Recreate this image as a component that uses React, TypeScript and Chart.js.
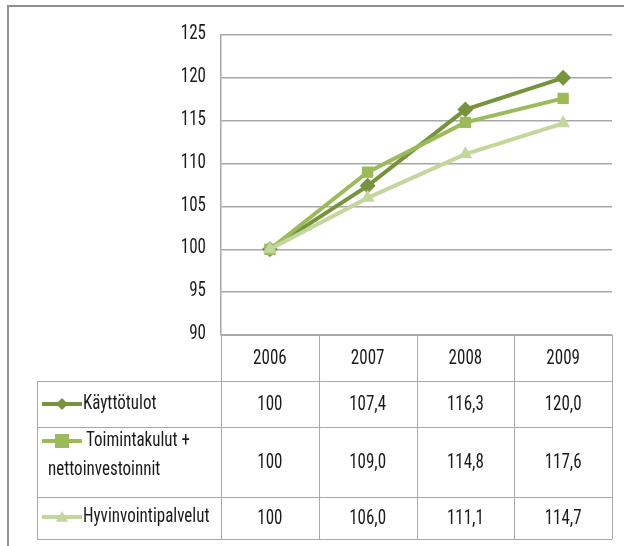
import React, { useEffect, useRef } from "react";
import { Chart, registerables } from "chart.js";

Chart.register(...registerables);

const years = ["2006", "2007", "2008", "2009"];
const seriesNames = ["Käyttötulot", "Toimintakulut + nettoinvestoinnit", "Hyvinvointipalvelut"];
const kayttotulot = [100, 107.4, 116.3, 120.0];
const toimintakulut = [100, 109.0, 114.8, 117.6];
const hyvinvointipalvelut = [100, 106.0, 111.1, 114.7];
const yMin = 90;
const yMax = 125;
const yStep = 5;

const colors = ["#77933C", "#9BBB59", "#C3D69B"];
const markers = ["rectRot", "rect", "triangle"];
const FONT = "'Liberation Sans Narrow', 'Roboto Condensed', 'Arial Narrow', 'Liberation Sans', sans-serif";
const TEXT = "#1a1a1a";
const GRID = "#a8a8a8";
const SY = 1.22;

function fmt(v: number) {
  return v === 100 ? "100" : v.toFixed(1).replace(".", ",");
}

function txt(ctx: CanvasRenderingContext2D, s: string, x: number, y: number) {
  ctx.save();
  ctx.translate(x, y);
  ctx.scale(1, SY);
  ctx.fillText(s, 0, 0);
  ctx.restore();
}

function drawMarker(ctx: CanvasRenderingContext2D, style: string, x: number, y: number, r: number, color: string) {
  ctx.save();
  ctx.fillStyle = color;
  ctx.beginPath();
  if (style === "rectRot") {
    ctx.moveTo(x, y - r);
    ctx.lineTo(x + r, y);
    ctx.lineTo(x, y + r);
    ctx.lineTo(x - r, y);
  } else if (style === "rect") {
    ctx.rect(x - r, y - r, 2 * r, 2 * r);
  } else {
    ctx.moveTo(x, y - r);
    ctx.lineTo(x + r, y + r * 0.8);
    ctx.lineTo(x - r, y + r * 0.8);
  }
  ctx.closePath();
  ctx.fill();
  ctx.restore();
}

const tablePlugin = {
  id: "dataTable",
  beforeDraw(chart: any) {
    const ctx = chart.ctx as CanvasRenderingContext2D;
    ctx.save();
    ctx.fillStyle = "#ffffff";
    ctx.fillRect(0, 0, chart.width, chart.height);
    ctx.restore();
  },
  afterDraw(chart: any) {
    const ctx = chart.ctx as CanvasRenderingContext2D;
    const area = chart.chartArea;
    const xs = chart.scales.x;
    const ys = chart.scales.y;
    const left = area.left;
    const right = area.right;
    const tableLeft = 37;
    const colW = (right - left) / years.length;
    const rows = [area.bottom, 381, 427, 497, 539];

    ctx.save();
    // outer frame
    ctx.strokeStyle = "#8f8f8f";
    ctx.lineWidth = 2;
    ctx.beginPath();
    ctx.moveTo(8, chart.height);
    ctx.lineTo(8, 6);
    ctx.lineTo(chart.width, 6);
    ctx.stroke();

    // table grid
    ctx.strokeStyle = GRID;
    ctx.lineWidth = 1;
    ctx.beginPath();
    ctx.moveTo(left, rows[0] + 0.5);
    ctx.lineTo(right, rows[0] + 0.5);
    for (let r = 1; r < rows.length; r++) {
      ctx.moveTo(tableLeft, rows[r] + 0.5);
      ctx.lineTo(right, rows[r] + 0.5);
    }
    ctx.moveTo(tableLeft + 0.5, rows[1]);
    ctx.lineTo(tableLeft + 0.5, rows[4]);
    for (let c = 0; c <= years.length; c++) {
      const x = Math.round(left + c * colW) + 0.5;
      ctx.moveTo(x, rows[0]);
      ctx.lineTo(x, rows[4]);
    }
    ctx.stroke();

    ctx.fillStyle = TEXT;
    ctx.font = `17px ${FONT}`;
    ctx.textBaseline = "middle";

    // y tick labels
    ctx.textAlign = "right";
    ys.ticks.forEach((t: any) => {
      txt(ctx, String(t.value), 206, ys.getPixelForValue(t.value) - 1);
    });

    ctx.textAlign = "center";
    years.forEach((y, i) => {
      txt(ctx, y, xs.getPixelForValue(i), (rows[0] + rows[1]) / 2 + 1);
    });

    const data = [kayttotulot, toimintakulut, hyvinvointipalvelut];
    data.forEach((vals, r) => {
      const cy = (rows[r + 1] + rows[r + 2]) / 2 + 1;
      vals.forEach((v, i) => {
        txt(ctx, fmt(v), xs.getPixelForValue(i), cy);
      });
    });

    // legend keys and names
    const keyY = [404, 441, 517];
    const keyR = [6, 7, 6];
    data.forEach((_, r) => {
      const y = keyY[r];
      ctx.strokeStyle = colors[r];
      ctx.lineWidth = 4;
      ctx.beginPath();
      ctx.moveTo(42, y);
      ctx.lineTo(82, y);
      ctx.stroke();
      drawMarker(ctx, markers[r], 62, y, keyR[r], colors[r]);
    });
    ctx.fillStyle = TEXT;
    ctx.textAlign = "left";
    txt(ctx, seriesNames[0], 83, keyY[0]);
    const parts = seriesNames[1].split(" + ");
    txt(ctx, parts[0] + " +", 86, keyY[1]);
    txt(ctx, parts[1], 48, 470);
    txt(ctx, seriesNames[2], 83, keyY[2]);
    ctx.restore();
  },
};

export default function App() {
  const ref = useRef<HTMLCanvasElement | null>(null);
  useEffect(() => {
    if (!ref.current) return;
    const mk = (label: string, data: number[], i: number, order: number) => ({
      label,
      data,
      borderColor: colors[i],
      backgroundColor: colors[i],
      borderWidth: 4,
      pointStyle: markers[i],
      pointRadius: 8,
      pointBorderWidth: 0,
      pointBackgroundColor: colors[i],
      tension: 0,
      order,
    });
    const chart = new Chart(ref.current, {
      type: "line",
      data: {
        labels: years,
        datasets: [
          mk(seriesNames[0], kayttotulot, 0, 2),
          mk(seriesNames[1], toimintakulut, 1, 1),
          mk(seriesNames[2], hyvinvointipalvelut, 2, 0),
        ],
      },
      options: {
        responsive: false,
        animation: false,
        layout: { padding: { left: 0, right: 12, top: 35, bottom: 211 } },
        plugins: { legend: { display: false }, tooltip: { enabled: false } },
        scales: {
          x: {
            display: false,
            offset: true,
            grid: { display: false },
          },
          y: {
            min: yMin,
            max: yMax,
            afterFit: (s: any) => {
              s.width = 221;
            },
            ticks: {
              stepSize: yStep,
              padding: 14,
              color: "rgba(0,0,0,0)",
              font: { family: FONT, size: 17 },
            },
            grid: { color: GRID, lineWidth: 1.5, drawTicks: false },
            border: { display: true, color: GRID, width: 1.5 },
          },
        },
      },
      plugins: [tablePlugin],
    });
    return () => chart.destroy();
  }, []);
  return (
    <div style={{ position: "fixed", left: 0, top: 0, width: 624, height: 546, background: "#fff" }}>
      <canvas ref={ref} width={624} height={546} style={{ display: "block" }} />
    </div>
  );
}
